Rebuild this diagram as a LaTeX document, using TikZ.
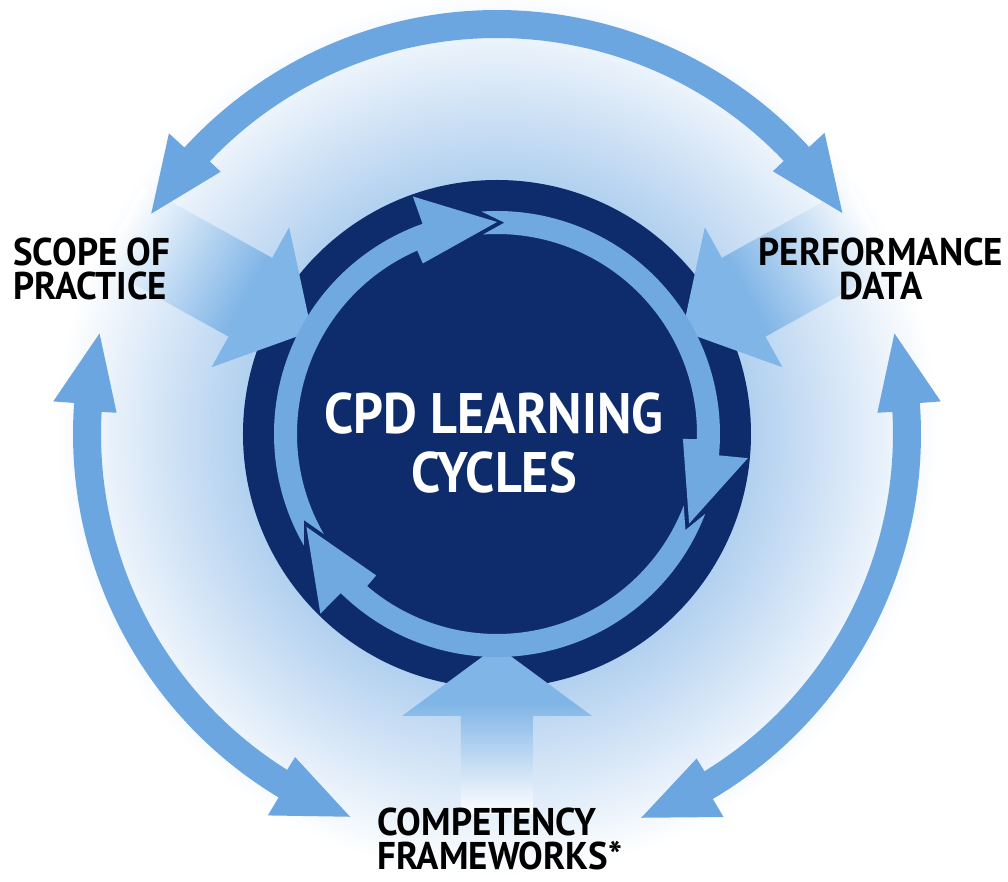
\documentclass[tikz,border=0pt]{standalone}
\usepackage{fontspec}
\newfontfamily\cpdfont{PT Sans}[FakeStretch=0.955]
\newfontfamily\cpdbigfont{PT Sans}[FakeStretch=0.915]

\definecolor{navy}{RGB}{14,44,108}
\definecolor{ringblue}{RGB}{112,169,224}
\definecolor{arcblue}{RGB}{108,166,224}
\definecolor{headblue}{RGB}{128,181,231}
\definecolor{glowblue}{RGB}{176,207,239}

\pgfdeclareradialshading{cpdglow}{\pgfpoint{0bp}{0bp}}{color(0bp)=(glowblue); color(13bp)=(glowblue); color(23bp)=(white); color(50bp)=(white)}
\pgfdeclarehorizontalshading{feedshade}{100bp}{color(0bp)=(headblue); color(42bp)=(headblue); color(75bp)=(white); color(100bp)=(white)}

\tikzset{
  ringfill/.style={fill=ringblue},
  outerfill/.style={fill=arcblue},
  feedfill/.style={shading=feedshade},
  sidelabel/.style={font=\cpdfont\bfseries\fontsize{22}{19.3}\selectfont, text=black, inner sep=0pt},
  centrelabel/.style={font=\cpdbigfont\bfseries\fontsize{32.5}{34}\selectfont, text=white, inner sep=0pt, align=center}
}

% small arrow of the inner cycle: #1 tail angle, #2 tip angle (clockwise)
\newcommand{\ringarrow}[2]{%
  \fill[ringfill] ({#1+4}:223) arc[start angle={#1+4}, end angle={#2+19.5}, radius=223]
    -- ({#2+19.5}:252) -- (#2:212) -- ({#2+23.5}:186) -- ({#2+23.5}:200)
    arc[start angle={#2+23.5}, end angle={#1+4}, radius=200] -- ({#1-2}:211.5) -- cycle;}

% double headed outer arc: #1 and #2 tip angles
\newcommand{\outerarc}[2]{%
  \fill[outerfill] ({#1+10}:424) arc[start angle={#1+10}, end angle={#2-10}, radius=424]
    -- ({#2-10}:445) -- (#2:410) -- ({#2-11}:381) -- ({#2-11}:396)
    arc[start angle={#2-11}, end angle={#1+11}, radius=396]
    -- ({#1+11}:381) -- (#1:410) -- ({#1+10}:445) -- cycle;}

% broad arrow pointing at the centre: #1 angle, #2 head half width, #3 shaft half width, #4 tail
\newcommand{\feedarrow}[4]{%
  \begin{scope}[transform canvas={rotate=#1}]
    \shade[feedfill] (212,0) -- (282,#2) -- (282,#3) -- (#4,#3) -- (#4,-#3)
      -- (282,-#3) -- (282,-#2) -- cycle;
  \end{scope}}

\begin{document}
\begin{tikzpicture}[x=0.02cm,y=0.02cm]
\fill[white] (-497,-448) rectangle (511,434);
\useasboundingbox (-497,-448) rectangle (511,434);

% glow and dark disc
\shade[shading=cpdglow] (0,0) circle (480);
\fill[navy] (0,0) circle (254);

% arrows into the cycle
\feedarrow{151}{80}{45}{430}
\feedarrow{29}{80}{45}{430}
\feedarrow{-90}{95}{36}{380}

% inner cycle
\ringarrow{206}{90}
\ringarrow{90}{-25}
\ringarrow{-25}{-154}

% outer arcs
\outerarc{32.6}{147.5}
\outerarc{165.8}{249}
\outerarc{-69.4}{14.2}

% labels
\node[centrelabel, anchor=north] (cpd) at (-3,42) {CPD LEARNING\\CYCLES};
\node[sidelabel, align=left, anchor=north west] (scope) at (-484,196) {SCOPE OF\\PRACTICE};
\node[sidelabel, align=center, anchor=north] (perf) at (384,196) {PERFORMANCE\\DATA};
\node[sidelabel, align=left, anchor=north west] (comp) at (-120,-374) {COMPETENCY\\FRAMEWORKS*};
\end{tikzpicture}
\end{document}
